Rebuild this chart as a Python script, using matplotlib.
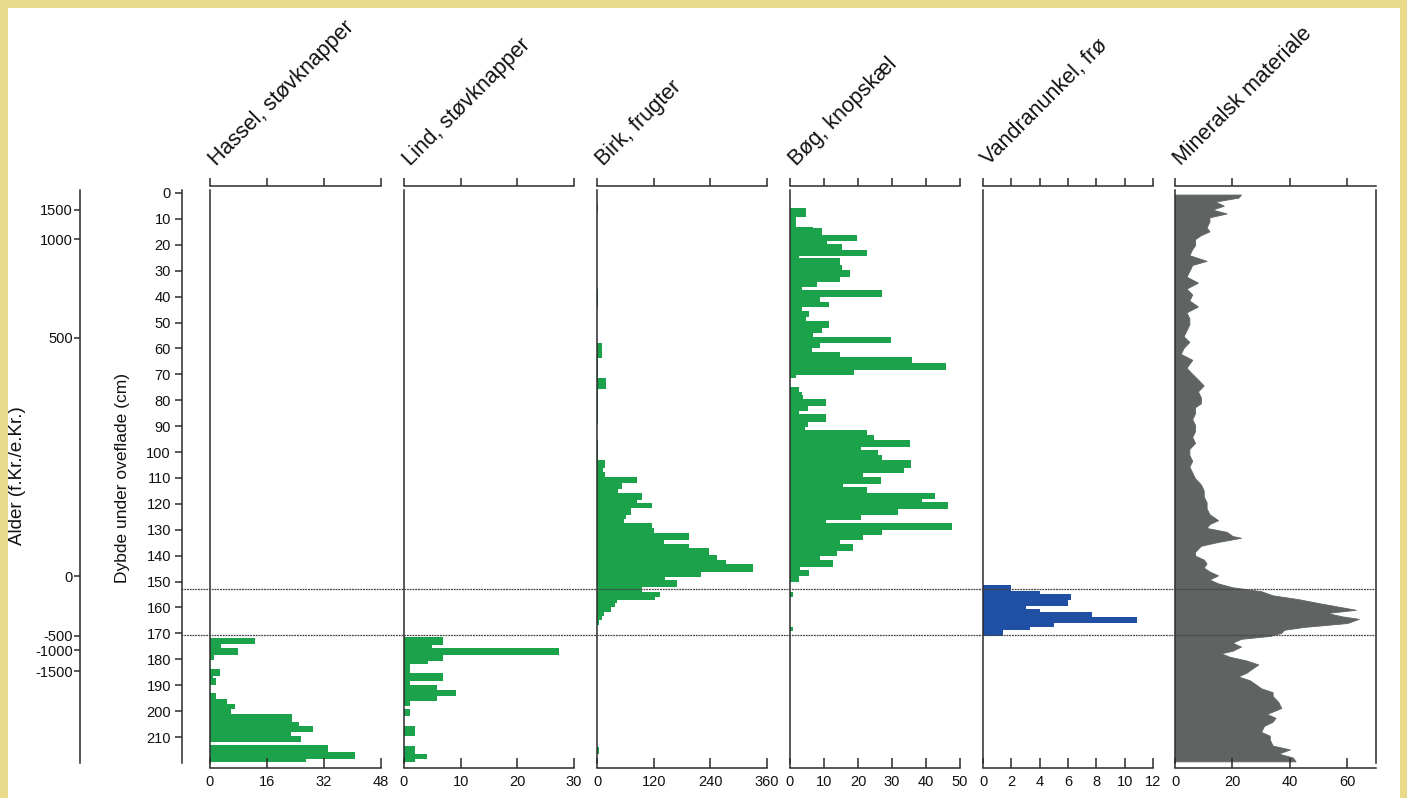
import numpy as np
import matplotlib
matplotlib.use('Agg')
import matplotlib.pyplot as plt
from matplotlib.patches import Rectangle
from matplotlib.lines import Line2D
from matplotlib.transforms import blended_transform_factory

plt.rcParams['font.family'] = ['Liberation Sans', 'DejaVu Sans']

# ---- data: bar panels are given as depth edges (cm) + one value per interval ----
hassel_edges = [171.8, 174.1, 175.6, 178.2, 180.2, 183.8, 186.3, 187.3, 189.9, 193.0,
                195.4, 197.3, 199.1, 201.1, 204.1, 205.7, 208.0, 209.5, 212.1, 213.0,
                215.6, 218.3, 219.5]
hassel_vals = [12.5, 3.1, 7.8, 1.2, 0, 2.8, 0.9, 1.7, 0, 1.7, 4.7, 6.9, 5.9,
               22.9, 25.0, 29.0, 22.6, 25.6, 0, 33.1, 40.8, 27.0]

lind_edges = [171.3, 174.4, 175.6, 178.2, 180.5, 182.0, 185.4, 188.4, 189.9, 191.9,
              194.2, 196.0, 198.0, 199.1, 201.8, 205.7, 209.8, 213.3, 216.4, 218.3, 219.5]
lind_vals = [6.9, 4.9, 27.4, 6.9, 4.2, 1.0, 6.9, 1.0, 5.8, 9.2, 5.8, 1.0, 0, 1.0,
             0, 1.9, 0, 1.9, 4.0, 1.9]

birk_edges = [4.5, 7.0, 37.0, 44.0, 58.0, 63.7, 71.5, 75.5, 89.0,
              95.4, 103.1, 106.3, 107.6, 109.5, 112.1, 114.4, 115.7, 118.5, 119.6,
              121.7, 124.3, 125.9, 127.5, 129.5, 131.4, 134.0, 135.5, 137.2, 139.8,
              141.5, 143.3, 146.2, 148.2, 149.4, 152.0, 153.9, 155.9, 157.1, 158.2,
              159.7, 161.6, 163.3, 164.9, 166.6, 214.0, 216.4]
birk_vals = [1.5, 0, 1.5, 0, 11, 2, 18, 2, 0,
             3, 17, 13, 17, 84, 52, 45, 95, 84, 116, 73, 61, 57, 116, 121,
             195, 142, 195, 237, 255, 273, 331, 220, 144, 169, 96, 133, 123,
             42, 38, 29, 15, 10, 4, 0, 3.5]

bog_edges = [5.9, 9.1, 13.0, 13.6, 16.2, 18.5, 19.8, 22.0, 24.3, 25.2,
             27.8, 29.7, 32.3, 34.2, 36.4, 37.4, 40.3, 42.0, 44.1, 45.4,
             47.7, 49.3, 52.0, 54.2, 55.5, 58.0, 60.0, 61.3, 63.2, 65.8,
             68.3, 70.3, 71.6, 74.8, 76.7, 78.0, 79.7, 82.2, 84.2, 85.5,
             88.3, 90.2, 91.5, 93.4, 95.4, 97.9, 99.2, 101.2, 103.1, 106.3,
             108.2, 109.8, 112.4, 113.4, 115.7, 118.3, 119.2, 122.1, 124.3, 126.3,
             127.5, 130.1, 132.0, 134.0, 135.6, 138.1, 140.1, 141.7, 144.3, 145.5,
             147.9, 150.1, 154.0, 156.0, 167.5, 169.0]
bog_vals = [4.6, 1.7, 6.9, 9.5, 19.6, 11.0, 15.4, 22.5, 2.6, 14.7,
            15.4, 17.6, 14.7, 7.8, 3.6, 27.0, 8.8, 11.6, 3.4, 5.6,
            4.6, 11.6, 9.5, 6.9, 29.7, 8.8, 6.4, 14.7, 35.8, 46.0,
            18.8, 1.8, 0, 2.6, 3.4, 3.9, 10.5, 5.4, 2.5, 10.5,
            5.4, 4.4, 22.5, 24.8, 35.3, 20.9, 25.8, 27.0, 35.6, 33.6,
            21.6, 26.8, 15.7, 22.5, 42.6, 38.9, 46.6, 31.7, 20.9, 10.5,
            47.5, 27.0, 21.6, 14.7, 18.4, 13.7, 8.8, 12.7, 2.9, 5.6,
            2.5, 0, 0.8, 0, 0.8]

vand_edges = [151.2, 153.7, 154.8, 157.3, 159.4, 160.6, 161.8, 163.7, 166.0, 167.5, 168.6, 171.0]
vand_vals = [2.0, 4.0, 6.2, 6.0, 3.0, 4.0, 7.7, 10.9, 5.0, 3.3, 1.4]

mineral_depth = [0.6, 1.8, 3.3, 4.9, 6.4, 7.9, 9.4, 11.0, 13.3, 14.8, 16.3, 17.8, 20.1, 21.7,
                 24.0, 26.2, 27.8, 30.1, 32.3, 34.6, 36.9, 39.2, 41.5, 43.8, 46.1, 48.4,
                 50.7, 53.0, 55.3, 57.5, 59.8, 62.1, 64.4, 67.5, 69.8, 72.0, 74.3, 76.6,
                 78.9, 81.2, 82.7, 85.0, 87.3, 89.6, 91.9, 94.2, 96.5, 98.8, 101.1, 103.4,
                 105.6, 107.9, 110.2, 112.5, 114.8, 117.1, 119.4, 121.7, 124.0, 126.3,
                 127.8, 129.3, 130.8, 132.4, 133.1, 134.7, 136.2, 138.5, 140.0, 141.5,
                 143.0, 144.6, 146.1, 147.6, 149.2, 150.7, 152.2, 153.7, 155.3, 156.8,
                 158.3, 159.9, 160.9, 162.1, 163.4, 164.4, 166.0, 167.5, 168.6, 169.8,
                 171.0, 172.1, 173.6, 175.1, 176.7, 177.7, 179.0, 180.5, 182.0, 183.5,
                 185.1, 186.6, 188.1, 189.6, 191.2, 192.7, 194.2, 196.5, 198.8, 201.1,
                 202.6, 204.1, 205.7, 208.0, 209.5, 211.0, 213.3, 214.8, 216.4, 217.9, 219.4]
mineral_vals = [23, 22, 14, 17, 13, 18, 12, 12, 11, 12, 9, 7, 7, 6,
                5, 11, 6, 5, 4, 8, 4, 6, 5, 8, 4, 5,
                5, 4, 3, 5, 3, 2, 6, 4, 6, 8, 10, 8,
                9, 9, 7, 7, 6, 7, 7, 6, 7, 5, 5, 6,
                5, 6, 7, 9, 10, 10, 11, 11, 12, 15,
                12, 11, 18, 20, 23, 15, 9, 7, 7, 10,
                11, 10, 12, 15, 12, 15, 20, 30, 34, 43,
                50, 58, 63, 53, 58, 64, 60, 45, 38, 37,
                33, 23, 20, 23, 20, 16, 19, 25, 29, 27,
                25, 22, 26, 28, 30, 34, 34, 36, 37, 32,
                35, 34, 31, 30, 33, 33, 34, 40, 36, 41, 42]

titles = ['Hassel, støvknapper', 'Lind, støvknapper', 'Birk, frugter',
          'Bøg, knopskæl', 'Vandranunkel, frø', 'Mineralsk materiale']
xmax_list = [48, 30, 360, 50, 12, 70]
xticks_list = [[0, 16, 32, 48], [0, 10, 20, 30], [0, 120, 240, 360],
               [0, 10, 20, 30, 40, 50], [0, 2, 4, 6, 8, 10, 12], [0, 20, 40, 60]]

depth_ticks = list(range(0, 211, 10))
age_labels = ['1500', '1000', '500', '0', '-500', '-1000', '-1500']
age_depths = [6.5, 17.9, 55.8, 147.9, 171.0, 176.5, 184.7]
zone_depths = [153.0, 170.8]

GREEN = '#1ba24b'
BLUE = '#1f50a3'
GREY = '#5f6463'
AX = '#2b2b2b'
TXT = '#111111'

W, H = 1407, 798
fig = plt.figure(figsize=(W / 100, H / 100), dpi=100, facecolor='#e9d98b')
fig.patches.append(Rectangle((8 / W, 0), (1400 - 8) / W, 1 - 8 / H,
                             transform=fig.transFigure, facecolor='white',
                             edgecolor='none', zorder=-10))


def fx(px):
    return px / W


def fy(py):
    return 1 - py / H


YTOP, YBOT = -1, 220
ax_bottom = fy(193 + YBOT * 2.5905)
ax_height = fy(193 + YTOP * 2.5905) - ax_bottom

panel_left = [210, 404, 597, 790, 983, 1175]
panel_width = [171, 170, 170, 170, 170, 201]

data_sets = [(hassel_edges, hassel_vals, GREEN), (lind_edges, lind_vals, GREEN),
             (birk_edges, birk_vals, GREEN), (bog_edges, bog_vals, GREEN),
             (vand_edges, vand_vals, BLUE), None]

for i in range(6):
    ax = fig.add_axes([fx(panel_left[i]), ax_bottom, fx(panel_width[i]), ax_height])
    ax.set_facecolor('none')
    ax.set_xlim(0, xmax_list[i])
    ax.set_ylim(YBOT, YTOP)
    if data_sets[i] is not None:
        edges, vals, col = data_sets[i]
        edges = np.array(edges)
        ax.barh(edges[:-1], vals, height=np.diff(edges), align='edge',
                color=col, edgecolor='none', linewidth=0)
    else:
        ax.fill_betweenx(mineral_depth, 0, mineral_vals, color=GREY, linewidth=0.6,
                         edgecolor=GREY)
    for s in ['top', 'right']:
        ax.spines[s].set_visible(False)
    if i == 5:
        ax.spines['right'].set_visible(True)
    for s in ['left', 'bottom', 'right']:
        ax.spines[s].set_color(AX)
        ax.spines[s].set_linewidth(1.1)
    ax.spines['bottom'].set_position(('outward', 4))
    ax.set_xticks(xticks_list[i])
    ax.tick_params(axis='x', direction='in', length=7, width=1.1, color=AX,
                   labelsize=10.5, pad=5, labelcolor=TXT)
    ax.tick_params(axis='y', left=False, labelleft=False)
    sec = ax.secondary_xaxis(1 + 4 / (ax_height * H))
    sec.set_xticks(xticks_list[i])
    sec.tick_params(direction='out', length=6, width=1.1, color=AX, labeltop=False)
    sec.spines['top'].set_color(AX)
    sec.spines['top'].set_linewidth(1.1)
    fig.text(fx(panel_left[i] + 6), fy(166), titles[i], rotation=45,
             rotation_mode='anchor', ha='left', va='baseline', fontsize=15.5,
             color=TXT)

# depth axis
ax_d = fig.add_axes([fx(182), ax_bottom, 0.0005, ax_height])
ax_d.set_facecolor('none')
ax_d.set_ylim(YBOT, YTOP)
for s in ['top', 'right', 'bottom']:
    ax_d.spines[s].set_visible(False)
ax_d.spines['left'].set_color(AX)
ax_d.spines['left'].set_linewidth(1.1)
ax_d.set_xticks([])
ax_d.set_yticks(depth_ticks)
ax_d.tick_params(axis='y', length=5, width=1.1, color=AX, labelsize=10.5, pad=3,
                 labelcolor=TXT)

# age axis
ax_a = fig.add_axes([fx(80), ax_bottom, 0.0005, ax_height])
ax_a.set_facecolor('none')
ax_a.set_ylim(YBOT, YTOP)
for s in ['top', 'right', 'bottom']:
    ax_a.spines[s].set_visible(False)
ax_a.spines['left'].set_color(AX)
ax_a.spines['left'].set_linewidth(1.1)
ax_a.set_xticks([])
ax_a.set_yticks(age_depths)
ax_a.set_yticklabels(age_labels)
ax_a.tick_params(axis='y', length=4, width=1.1, color=AX, labelsize=10.5, pad=1,
                 labelcolor=TXT)

fig.text(fx(18), fy(476), 'Alder (f.Kr./e.Kr.)', rotation=90, ha='center',
         va='center', fontsize=13.5, color=TXT)
fig.text(fx(122), fy(478), 'Dybde under oveflade (cm)', rotation=90,
         ha='center', va='center', fontsize=12.5, color=TXT)

# zone lines across all panels
tr = blended_transform_factory(fig.transFigure, ax_d.transData)
for d in zone_depths:
    fig.add_artist(Line2D([fx(181), fx(1376)], [d, d], transform=tr,
                          color='#444444', linewidth=0.9, linestyle=(0, (1.5, 0.7)),
                          zorder=5))

fig.savefig('out.png', dpi=100, facecolor=fig.get_facecolor())
